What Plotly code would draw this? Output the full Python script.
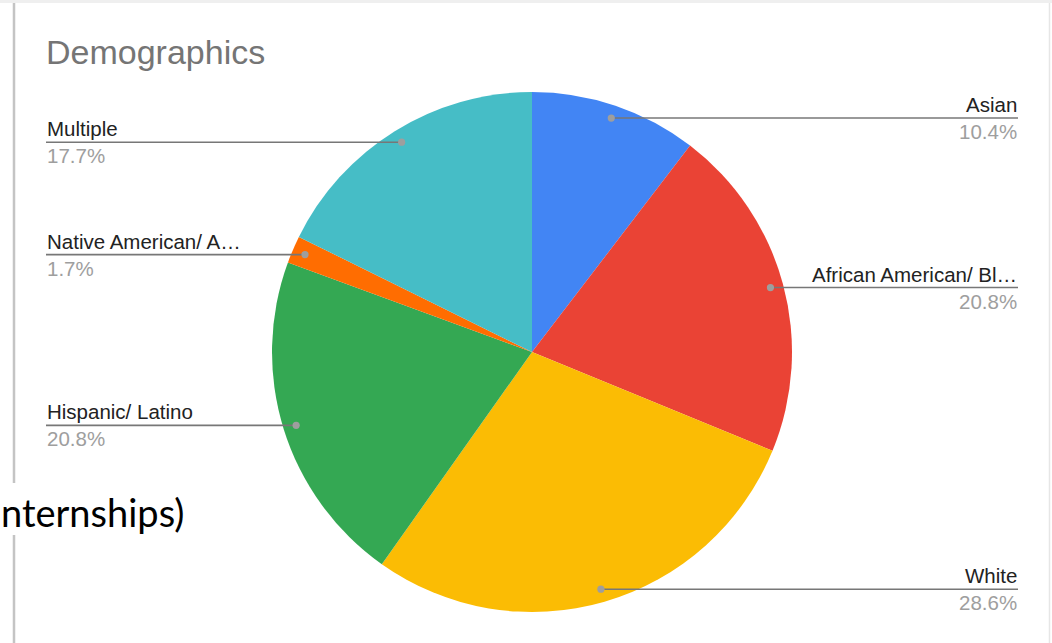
import math
import plotly.graph_objects as go

# ---- data ----
categories = ["Asian", "African American/ Black", "White", "Hispanic/ Latino",
              "Native American/ Alaska Native", "Multiple"]
display_labels = ["Asian", "African American/ Bl…", "White", "Hispanic/ Latino",
                  "Native American/ A…", "Multiple"]
percents = [10.4, 20.8, 28.6, 20.8, 1.7, 17.7]
percent_labels = ["10.4%", "20.8%", "28.6%", "20.8%", "1.7%", "17.7%"]
title_text = "Demographics"
background_text = "nternships)"

# ---- styles ----
colors = ["#4285F4", "#EA4335", "#FBBC04", "#34A853", "#FF6D01", "#46BDC6"]
W, H = 1052, 643
CX, CY, R = 532, 352, 260
DOT_R = 0.95 * R
LEFT_X, RIGHT_X = 46, 1018
FONT = "Liberation Sans, Arial, sans-serif"

fig = go.Figure()

fig.add_trace(go.Pie(
    labels=categories, values=percents, sort=False, direction="clockwise",
    rotation=0, textinfo="none", hoverinfo="label+percent",
    marker=dict(colors=colors, line=dict(width=0)),
    domain=dict(x=[(CX - R) / W, (CX + R) / W], y=[(H - CY - R) / H, (H - CY + R) / H]),
    showlegend=False,
))

# leader dots / lines / labels computed from slice mid-angles
total = sum(percents)
cum = 0.0
annotations = []
shapes = []
for name, p, plab in zip(display_labels, percents, percent_labels):
    mid = (cum + p / 2) / total * 2 * math.pi
    cum += p
    dx = CX + DOT_R * math.sin(mid)
    dy = CY - DOT_R * math.cos(mid)
    right = math.sin(mid) > 0
    ex = RIGHT_X if right else LEFT_X
    shapes.append(dict(type="line", xref="x", yref="y", x0=dx, x1=ex, y0=dy, y1=dy,
                       line=dict(color="#777777", width=1.6), layer="above"))
    shapes.append(dict(type="circle", xref="x", yref="y", x0=dx - 3.6, x1=dx + 3.6,
                       y0=dy - 3.6, y1=dy + 3.6, fillcolor="#9E9E9E",
                       line=dict(width=0), layer="above"))
    anchor = "right" if right else "left"
    annotations.append(dict(x=ex, y=dy - 1, xref="x", yref="y", text=name, showarrow=False,
                            xanchor=anchor, yanchor="bottom", borderpad=0,
                            font=dict(family=FONT, size=20.5, color="#222222")))
    annotations.append(dict(x=ex, y=dy + 1, xref="x", yref="y", text=plab, showarrow=False,
                            xanchor=anchor, yanchor="top", borderpad=0,
                            font=dict(family=FONT, size=20.5, color="#9E9E9E")))

# title
annotations.append(dict(x=LEFT_X - 1, y=52, xref="x", yref="y", text=title_text, showarrow=False,
                        xanchor="left", yanchor="middle", borderpad=0,
                        font=dict(family=FONT, size=34, color="#757575")))

# card edges
shapes += [
    dict(type="rect", xref="x", yref="y", x0=0, x1=W, y0=0, y1=3,
         fillcolor="#EFEFEF", line=dict(width=0), layer="below"),
    dict(type="line", xref="x", yref="y", x0=14, x1=14, y0=3, y1=H,
         line=dict(color="#C4C4C4", width=2.5), layer="below"),
    dict(type="line", xref="x", yref="y", x0=1049.5, x1=1049.5, y0=3, y1=H,
         line=dict(color="#E6E6E6", width=1.5), layer="below"),
    # overlapping slide text box
    dict(type="rect", xref="x", yref="y", x0=0, x1=200, y0=483, y1=535,
         fillcolor="#FFFFFF", line=dict(width=0), layer="below"),
]
annotations.append(dict(x=0, y=512, xref="x", yref="y", text=background_text, showarrow=False,
                        xanchor="left", yanchor="middle", borderpad=0,
                        font=dict(family="Lato, Carlito, sans-serif", size=38, color="#000000")))

fig.update_layout(
    width=W, height=H, margin=dict(l=0, r=0, t=0, b=0),
    paper_bgcolor="#FFFFFF", plot_bgcolor="rgba(0,0,0,0)",
    xaxis=dict(range=[0, W], visible=False, fixedrange=True),
    yaxis=dict(range=[H, 0], visible=False, fixedrange=True),
    shapes=shapes, annotations=annotations,
)

fig.write_html("out.html", config={"displayModeBar": False},
               post_script="document.body.style.margin='0';document.body.style.overflow='hidden';")
